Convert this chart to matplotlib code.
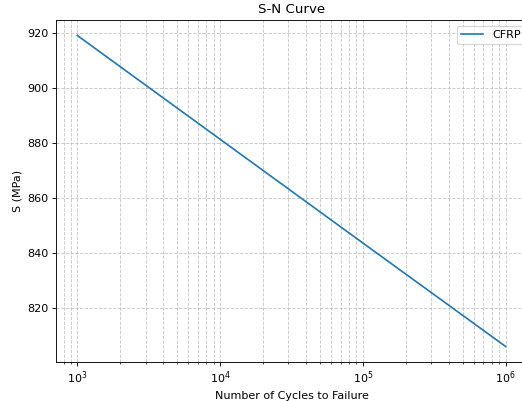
import matplotlib.pyplot as plt

# S-N data
cycles = [1e3, 1e4, 1e5, 1e6]
stress = [919.0, 881.3, 843.6, 806.0]

fig = plt.figure(figsize=(522 / 80, 401 / 80), dpi=80)
ax = fig.add_axes([56 / 522, 39 / 401, 471 / 522, 342 / 401])

ax.plot(cycles, stress, label="CFRP")
ax.set_xscale("log")
ax.set_title("S-N Curve")
ax.set_xlabel("Number of Cycles to Failure")
ax.set_ylabel("S (MPa)")
ax.grid(True, which="both", linestyle="--", alpha=0.7)
ax.legend(loc="upper right", bbox_to_anchor=(1 + 4 / 471, 1))

fig.savefig("out.png", dpi=80)
